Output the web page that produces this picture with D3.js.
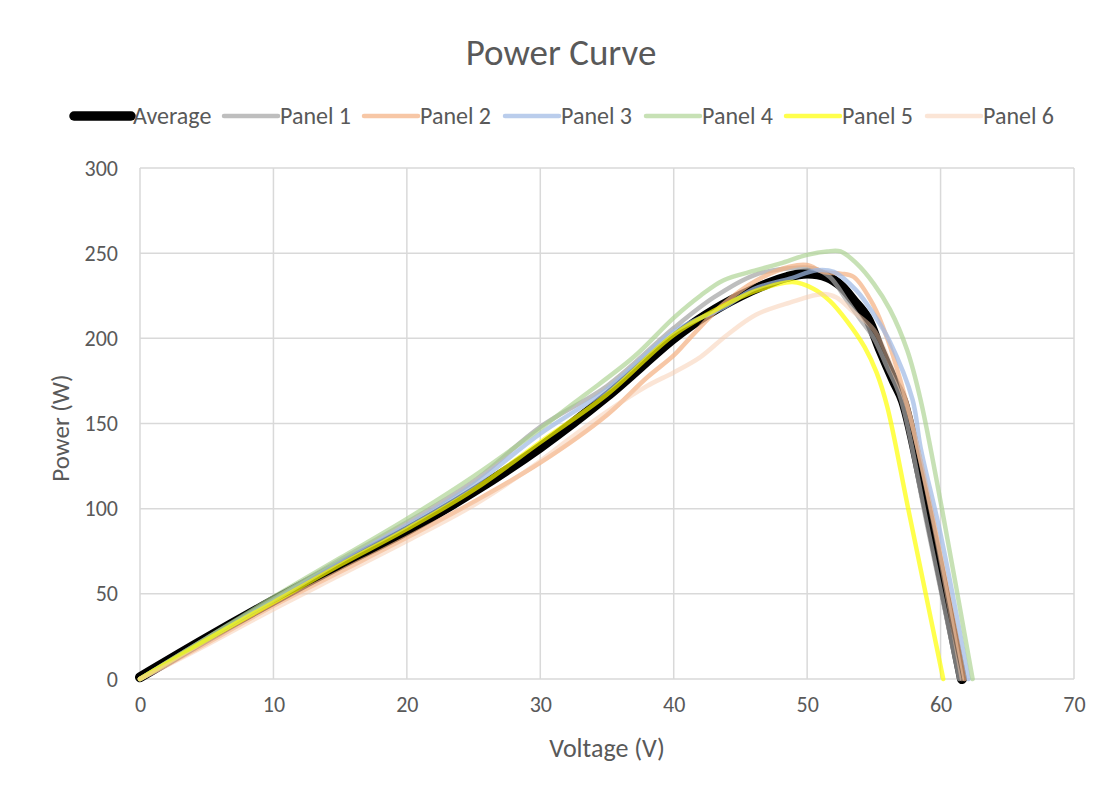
<!DOCTYPE html>
<html>
<head>
<meta charset="utf-8">
<script src="https://cdn.jsdelivr.net/npm/d3@7"></script>
<style>
  html, body { margin: 0; padding: 0; background: #fff; }
  svg text { font-family: Carlito, Lato, "Liberation Sans", sans-serif; fill: #595959; }
</style>
</head>
<body>
<svg id="chart" width="1107" height="794"></svg>
<script>
// ---- data ----
const seriesNames = ["Average", "Panel 1", "Panel 2", "Panel 3", "Panel 4", "Panel 5", "Panel 6"];

const avgV = [0, 5, 10, 15, 20, 25, 30, 35, 40, 42.5, 45, 47, 48.5, 50, 51.5, 52.5, 53.5, 54.5, 55.5, 56.5, 57.2, 59, 61.6];
const avgP = [1, 24, 46, 67, 87, 110, 136, 166, 200, 214, 225, 232, 236, 238, 236, 231, 222, 212, 193, 175, 163, 100, 0];

const p1V = [0, 5, 10, 15, 20, 25, 30, 35, 40, 43, 46, 48.5, 50.5, 51.7, 53, 54, 55, 56, 57, 59, 61.4];
const p1P = [0, 24, 47, 70, 92, 116, 148, 172, 206, 224, 237, 241, 241, 236, 222, 211, 200, 183, 165, 90, 0];

const p2V = [0, 5, 10, 15, 20, 25, 30, 35, 38, 40, 41.2, 43.7, 46.2, 48.7, 50, 51.2, 52.5, 53.5, 55, 56, 57, 58, 59.5, 61.8];
const p2P = [0, 21, 43, 63, 83, 104, 127, 155, 177, 190, 200, 220, 234, 242, 243, 239, 238, 236, 219, 200, 175, 145, 92, 0];

const p3V = [0, 5, 10, 15, 20, 25, 30, 35, 40, 43.7, 46, 48.7, 50.7, 52, 53.7, 55, 56.2, 57.9, 58.5, 60, 62.1];
const p3P = [0, 23, 46, 69, 90, 114, 144, 170, 204, 218, 229, 235, 240, 239, 228, 214, 198, 164, 136, 85, 0];

const p4V = [0, 5, 10, 15, 20, 25, 30, 33.2, 37, 40, 42, 43.7, 46.2, 48, 50, 51.5, 52.5, 53.7, 55, 56.2, 57.5, 58.5, 60.1, 62.4];
const p4P = [0, 24, 48, 71, 94, 119, 147, 166, 189, 212, 225, 234, 240, 244, 249, 251, 251, 244, 232, 217, 193, 164, 100, 0];

const p5V = [0, 5, 10, 15, 20, 25, 30, 35, 40, 43.7, 46.2, 48.9, 50.5, 51.7, 53, 54.3, 55.2, 56, 57.6, 60.2];
const p5P = [0, 23, 45, 67, 88, 111, 139, 167, 202, 219, 228, 233, 229, 222, 210, 195, 180, 160, 99, 0];

const p6V = [0, 5, 10, 15, 20, 25, 30, 32, 35, 38, 40, 42, 44, 46.2, 48.7, 51.2, 52.2, 53.4, 55, 56.5, 57.5, 59.5, 61.6];
const p6P = [0, 20, 41, 61, 81, 102, 128, 140, 157, 172, 180, 189, 202, 214, 221, 226, 224, 216, 205, 180, 160, 90, 0];

const xTicks = [0, 10, 20, 30, 40, 50, 60, 70];
const yTicks = [0, 50, 100, 150, 200, 250, 300];

// ---- styles ----
const colors = ["#000000", "rgba(165,165,165,0.72)", "rgba(244,177,131,0.72)", "rgba(160,186,228,0.72)",
                "rgba(169,209,142,0.65)", "rgba(255,255,0,0.7)", "rgba(248,203,173,0.5)"];
const widths = [10, 4.5, 4.5, 4.5, 4.5, 4.5, 4.5];

const seriesV = [avgV, p1V, p2V, p3V, p4V, p5V, p6V];
const seriesP = [avgP, p1P, p2P, p3P, p4P, p5P, p6P];

const svg = d3.select("#chart");
const x = d3.scaleLinear().domain([0, 70]).range([140, 1074]);
const y = d3.scaleLinear().domain([0, 300]).range([679, 168]);

// gridlines
svg.append("g").selectAll("line").data(yTicks).join("line")
  .attr("x1", x(0)).attr("x2", x(70))
  .attr("y1", d => y(d)).attr("y2", d => y(d))
  .attr("stroke", "#d9d9d9").attr("stroke-width", 1.5);
svg.append("g").selectAll("line").data(xTicks).join("line")
  .attr("y1", y(0)).attr("y2", y(300))
  .attr("x1", d => x(d)).attr("x2", d => x(d))
  .attr("stroke", "#d9d9d9").attr("stroke-width", 1.5);

// axes labels via d3 axes
const yAxis = svg.append("g").attr("transform", `translate(${x(0)},0)`)
  .call(d3.axisLeft(y).tickValues(yTicks).tickSize(0).tickPadding(22));
const xAxis = svg.append("g").attr("transform", `translate(0,${y(0)})`)
  .call(d3.axisBottom(x).tickValues(xTicks).tickSize(0).tickPadding(17));
[yAxis, xAxis].forEach(a => {
  a.select(".domain").remove();
  a.selectAll("text").style("font-size", "22px").attr("fill", "#595959");
});

// lines
const line = d3.line().x(d => x(d[0])).y(d => y(d[1])).curve(d3.curveCatmullRom.alpha(0.5));
seriesV.forEach((vs, i) => {
  const pts = vs.map((v, j) => [v, seriesP[i][j]]);
  svg.append("path").datum(pts)
    .attr("d", line)
    .attr("fill", "none")
    .attr("stroke", colors[i])
    .attr("stroke-width", widths[i])
    .attr("stroke-linejoin", "round")
    .attr("stroke-linecap", "round");
});

// title
svg.append("text").attr("x", 561).attr("y", 65).attr("text-anchor", "middle")
  .style("font-size", "37px").text("Power Curve");

// axis titles
svg.append("text").attr("x", 607).attr("y", 757).attr("text-anchor", "middle")
  .style("font-size", "26px").text("Voltage (V)");
svg.append("text").attr("transform", "translate(69,428) rotate(-90)").attr("text-anchor", "middle")
  .style("font-size", "25px").text("Power (W)");

// legend
const legendX = [74, 224, 364, 505, 646, 786, 927];
const sampleW = [57, 54, 54, 54, 54, 54, 54];
const lg = svg.append("g");
seriesNames.forEach((name, i) => {
  const x0 = legendX[i];
  lg.append("line").attr("x1", x0).attr("x2", x0 + sampleW[i])
    .attr("y1", 116).attr("y2", 116)
    .attr("stroke", colors[i]).attr("stroke-width", i === 0 ? 9.5 : 4.5)
    .attr("stroke-linecap", "round");
  lg.append("text").attr("x", x0 + sampleW[i] + 2).attr("y", 124)
    .style("font-size", "24px").text(name);
});
</script>
</body>
</html>
